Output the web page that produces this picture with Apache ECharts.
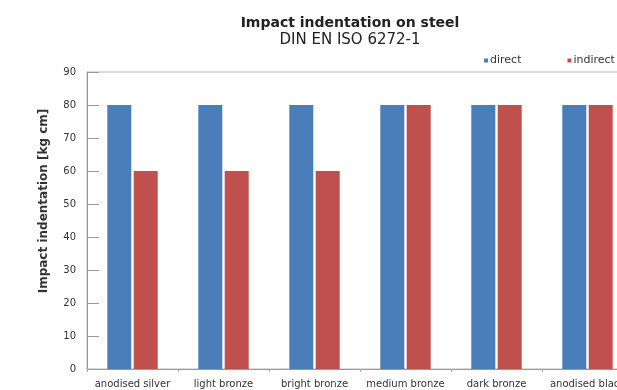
<!DOCTYPE html>
<html>
<head>
<meta charset="utf-8">
<script src="https://cdn.jsdelivr.net/npm/echarts@6/dist/echarts.min.js"></script>
<style>
  html, body { margin: 0; padding: 0; background: #fff; overflow: hidden; }
  #chart { width: 640px; height: 390px; }
</style>
</head>
<body>
<div id="chart"></div>
<script>
// Anodised finishes tested for impact indentation (DIN EN ISO 6272-1)
const categories = ['anodised silver', 'light bronze', 'bright bronze', 'medium bronze', 'dark bronze', 'anodised black'];
const directValues = [80, 80, 80, 80, 80, 80];
const indirectValues = [60, 60, 60, 80, 80, 80];
const yTicks = [0, 10, 20, 30, 40, 50, 60, 70, 80, 90];

// The canvas is a little wider than the visible page, so the last
// category and the legend run off the right edge.
const chart = echarts.init(document.getElementById('chart'));

chart.setOption({
  backgroundColor: '#ffffff',
  animation: false,
  title: {
    text: 'Impact indentation on steel',
    subtext: 'DIN EN ISO 6272-1',
    left: 345,
    top: 11,
    textAlign: 'center',
    itemGap: 3,
    textStyle: { fontFamily: 'DejaVu Sans', fontSize: 14, fontWeight: 'bold', color: '#222' },
    subtextStyle: { fontFamily: 'DejaVu Sans', fontSize: 15, color: '#222' }
  },
  legend: {
    left: 479,
    top: 50,
    itemWidth: 4,
    itemHeight: 4,
    itemGap: 46,
    icon: 'rect',
    textStyle: { fontFamily: 'DejaVu Sans', fontSize: 11, color: '#333', padding: [0, 0, 0, -3] },
    data: ['direct', 'indirect']
  },
  grid: {
    left: 87,
    top: 72,
    right: 7,
    bottom: 21,
    show: true,
    borderColor: '#b8b8b8',
    borderWidth: 1
  },
  xAxis: {
    type: 'category',
    data: categories,
    axisLine: { lineStyle: { color: '#999' } },
    axisTick: { show: true, length: 3, lineStyle: { color: '#aaa' } },
    axisLabel: {
      interval: 0,
      margin: 10,
      fontFamily: 'DejaVu Sans',
      fontSize: 10,
      color: '#333'
    }
  },
  yAxis: {
    type: 'value',
    min: yTicks[0],
    max: yTicks[yTicks.length - 1],
    interval: yTicks[1] - yTicks[0],
    name: 'Impact indentation [kg cm]',
    nameLocation: 'middle',
    nameGap: 37,
    nameTextStyle: {
      fontFamily: 'DejaVu Sans',
      fontSize: 12,
      fontWeight: 'bold',
      color: '#333',
      padding: [0, 0, 0, 39]
    },
    axisLine: { show: true, lineStyle: { color: '#999' } },
    axisTick: { show: true, inside: true, length: 12, lineStyle: { color: '#999' } },
    splitLine: { show: false },
    axisLabel: {
      margin: 11,
      fontFamily: 'DejaVu Sans',
      fontSize: 10,
      color: '#333'
    }
  },
  series: [
    {
      name: 'direct',
      type: 'bar',
      data: directValues,
      barWidth: 24,
      barGap: '10%',
      itemStyle: { color: '#4a7ebb' }
    },
    {
      name: 'indirect',
      type: 'bar',
      data: indirectValues,
      barWidth: 24,
      itemStyle: { color: '#c0504d' }
    }
  ]
});
</script>
</body>
</html>
